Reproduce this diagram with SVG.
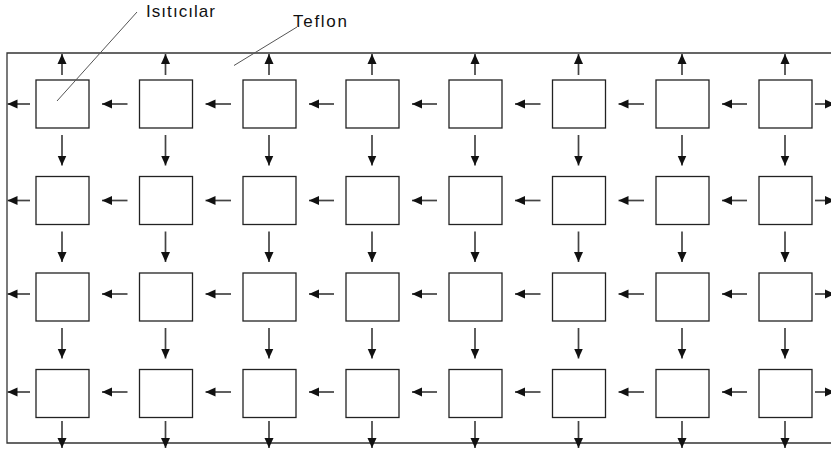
<svg xmlns="http://www.w3.org/2000/svg" width="831" height="450" viewBox="0 0 831 450">
<style>
.frame{fill:none;stroke:#333;stroke-width:1.3}
.box{fill:#fff;stroke:#222;stroke-width:1.3}
.arr{stroke:#444;stroke-width:1.7;fill:none;marker-end:url(#ah)}
.lead{stroke:#555;stroke-width:1;fill:none}
.lbl{font-family:"Liberation Sans",Arial,sans-serif;font-size:17px;fill:#111}
</style>
<defs>
<marker id="ah" markerUnits="userSpaceOnUse" markerWidth="10" markerHeight="10" refX="10" refY="5" orient="auto">
<path d="M0,0.5 L10,5 L0,9.5 z" fill="#111"/>
</marker>
</defs>
<rect width="831" height="450" fill="#fff"/>
<path class="frame" d="M831,53 H7 V443 H831"/>
<g id="nodes">
<g id="r1"><rect class="box" x="36" y="80" width="53" height="48"/><rect class="box" x="139.5" y="80" width="53" height="48"/><rect class="box" x="243" y="80" width="53" height="48"/><rect class="box" x="346" y="80" width="53" height="48"/><rect class="box" x="449" y="80" width="53" height="48"/><rect class="box" x="552.5" y="80" width="53" height="48"/><rect class="box" x="656" y="80" width="53" height="48"/><rect class="box" x="759" y="80" width="53" height="48"/></g>
<g id="r2"><rect class="box" x="36" y="176.5" width="53" height="48"/><rect class="box" x="139.5" y="176.5" width="53" height="48"/><rect class="box" x="243" y="176.5" width="53" height="48"/><rect class="box" x="346" y="176.5" width="53" height="48"/><rect class="box" x="449" y="176.5" width="53" height="48"/><rect class="box" x="552.5" y="176.5" width="53" height="48"/><rect class="box" x="656" y="176.5" width="53" height="48"/><rect class="box" x="759" y="176.5" width="53" height="48"/></g>
<g id="r3"><rect class="box" x="36" y="273" width="53" height="48"/><rect class="box" x="139.5" y="273" width="53" height="48"/><rect class="box" x="243" y="273" width="53" height="48"/><rect class="box" x="346" y="273" width="53" height="48"/><rect class="box" x="449" y="273" width="53" height="48"/><rect class="box" x="552.5" y="273" width="53" height="48"/><rect class="box" x="656" y="273" width="53" height="48"/><rect class="box" x="759" y="273" width="53" height="48"/></g>
<g id="r4"><rect class="box" x="36" y="369.5" width="53" height="48"/><rect class="box" x="139.5" y="369.5" width="53" height="48"/><rect class="box" x="243" y="369.5" width="53" height="48"/><rect class="box" x="346" y="369.5" width="53" height="48"/><rect class="box" x="449" y="369.5" width="53" height="48"/><rect class="box" x="552.5" y="369.5" width="53" height="48"/><rect class="box" x="656" y="369.5" width="53" height="48"/><rect class="box" x="759" y="369.5" width="53" height="48"/></g>
</g>
<g id="connectors">
<g id="up"><line class="arr" x1="62" y1="75" x2="62" y2="54"/><line class="arr" x1="165.5" y1="75" x2="165.5" y2="54"/><line class="arr" x1="269" y1="75" x2="269" y2="54"/><line class="arr" x1="372" y1="75" x2="372" y2="54"/><line class="arr" x1="475" y1="75" x2="475" y2="54"/><line class="arr" x1="578.5" y1="75" x2="578.5" y2="54"/><line class="arr" x1="682" y1="75" x2="682" y2="54"/><line class="arr" x1="785" y1="75" x2="785" y2="54"/></g>
<g id="left-r1"><line class="arr" x1="30" y1="104" x2="7.5" y2="104"/><line class="arr" x1="127.5" y1="104" x2="102" y2="104"/><line class="arr" x1="231" y1="104" x2="205.5" y2="104"/><line class="arr" x1="334" y1="104" x2="309" y2="104"/><line class="arr" x1="437" y1="104" x2="412" y2="104"/><line class="arr" x1="540.5" y1="104" x2="515" y2="104"/><line class="arr" x1="644" y1="104" x2="618.5" y2="104"/><line class="arr" x1="747" y1="104" x2="722" y2="104"/><line class="arr" x1="815" y1="104" x2="835" y2="104"/></g>
<g id="left-r2"><line class="arr" x1="30" y1="200.5" x2="7.5" y2="200.5"/><line class="arr" x1="127.5" y1="200.5" x2="102" y2="200.5"/><line class="arr" x1="231" y1="200.5" x2="205.5" y2="200.5"/><line class="arr" x1="334" y1="200.5" x2="309" y2="200.5"/><line class="arr" x1="437" y1="200.5" x2="412" y2="200.5"/><line class="arr" x1="540.5" y1="200.5" x2="515" y2="200.5"/><line class="arr" x1="644" y1="200.5" x2="618.5" y2="200.5"/><line class="arr" x1="747" y1="200.5" x2="722" y2="200.5"/><line class="arr" x1="815" y1="200.5" x2="835" y2="200.5"/></g>
<g id="left-r3"><line class="arr" x1="30" y1="294" x2="7.5" y2="294"/><line class="arr" x1="127.5" y1="294" x2="102" y2="294"/><line class="arr" x1="231" y1="294" x2="205.5" y2="294"/><line class="arr" x1="334" y1="294" x2="309" y2="294"/><line class="arr" x1="437" y1="294" x2="412" y2="294"/><line class="arr" x1="540.5" y1="294" x2="515" y2="294"/><line class="arr" x1="644" y1="294" x2="618.5" y2="294"/><line class="arr" x1="747" y1="294" x2="722" y2="294"/><line class="arr" x1="815" y1="294" x2="835" y2="294"/></g>
<g id="left-r4"><line class="arr" x1="30" y1="392" x2="7.5" y2="392"/><line class="arr" x1="127.5" y1="392" x2="102" y2="392"/><line class="arr" x1="231" y1="392" x2="205.5" y2="392"/><line class="arr" x1="334" y1="392" x2="309" y2="392"/><line class="arr" x1="437" y1="392" x2="412" y2="392"/><line class="arr" x1="540.5" y1="392" x2="515" y2="392"/><line class="arr" x1="644" y1="392" x2="618.5" y2="392"/><line class="arr" x1="747" y1="392" x2="722" y2="392"/><line class="arr" x1="815" y1="392" x2="835" y2="392"/></g>
<g id="down-1"><line class="arr" x1="62" y1="135" x2="62" y2="165.5"/><line class="arr" x1="165.5" y1="135" x2="165.5" y2="165.5"/><line class="arr" x1="269" y1="135" x2="269" y2="165.5"/><line class="arr" x1="372" y1="135" x2="372" y2="165.5"/><line class="arr" x1="475" y1="135" x2="475" y2="165.5"/><line class="arr" x1="578.5" y1="135" x2="578.5" y2="165.5"/><line class="arr" x1="682" y1="135" x2="682" y2="165.5"/><line class="arr" x1="785" y1="135" x2="785" y2="165.5"/></g>
<g id="down-2"><line class="arr" x1="62" y1="231.5" x2="62" y2="262"/><line class="arr" x1="165.5" y1="231.5" x2="165.5" y2="262"/><line class="arr" x1="269" y1="231.5" x2="269" y2="262"/><line class="arr" x1="372" y1="231.5" x2="372" y2="262"/><line class="arr" x1="475" y1="231.5" x2="475" y2="262"/><line class="arr" x1="578.5" y1="231.5" x2="578.5" y2="262"/><line class="arr" x1="682" y1="231.5" x2="682" y2="262"/><line class="arr" x1="785" y1="231.5" x2="785" y2="262"/></g>
<g id="down-3"><line class="arr" x1="62" y1="328" x2="62" y2="358.5"/><line class="arr" x1="165.5" y1="328" x2="165.5" y2="358.5"/><line class="arr" x1="269" y1="328" x2="269" y2="358.5"/><line class="arr" x1="372" y1="328" x2="372" y2="358.5"/><line class="arr" x1="475" y1="328" x2="475" y2="358.5"/><line class="arr" x1="578.5" y1="328" x2="578.5" y2="358.5"/><line class="arr" x1="682" y1="328" x2="682" y2="358.5"/><line class="arr" x1="785" y1="328" x2="785" y2="358.5"/></g>
<g id="down-4"><line class="arr" x1="62" y1="421" x2="62" y2="448"/><line class="arr" x1="165.5" y1="421" x2="165.5" y2="448"/><line class="arr" x1="269" y1="421" x2="269" y2="448"/><line class="arr" x1="372" y1="421" x2="372" y2="448"/><line class="arr" x1="475" y1="421" x2="475" y2="448"/><line class="arr" x1="578.5" y1="421" x2="578.5" y2="448"/><line class="arr" x1="682" y1="421" x2="682" y2="448"/><line class="arr" x1="785" y1="421" x2="785" y2="448"/></g>
<g id="leaders"><line class="lead" x1="137" y1="12" x2="57" y2="101"/><line class="lead" x1="297" y1="27" x2="234" y2="65.5"/></g>
</g>
<g id="labels">
<text class="lbl" x="146" y="17" textLength="69" lengthAdjust="spacing">Isıtıcılar</text>
<text class="lbl" x="293" y="26.5" textLength="54" lengthAdjust="spacing">Teflon</text>
</g>
</svg>
